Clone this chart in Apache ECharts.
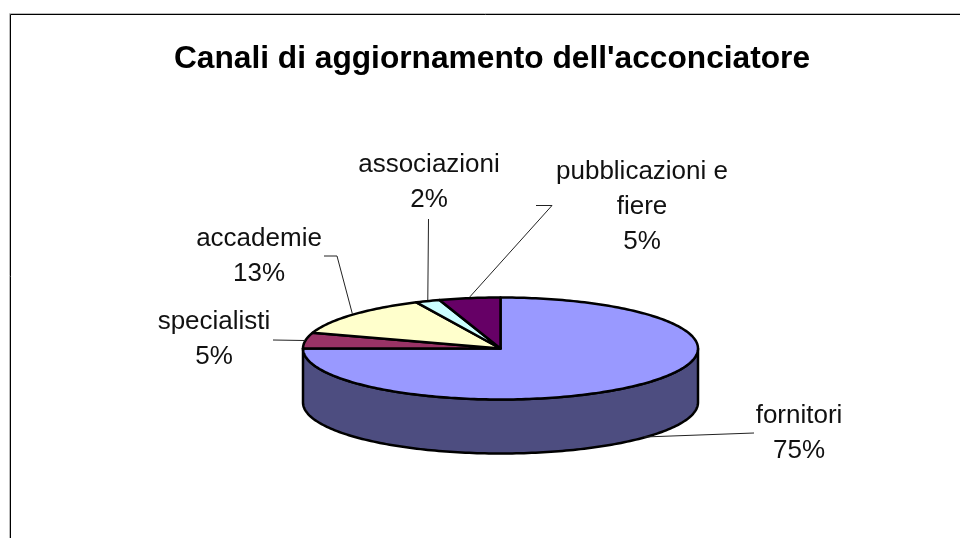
<!DOCTYPE html>
<html>
<head>
<meta charset="utf-8">
<style>html,body{margin:0;padding:0;background:#fff}#chart{width:960px;height:538px}</style>
<script src="https://cdn.jsdelivr.net/npm/echarts@6/dist/echarts.min.js"></script>
</head>
<body>
<div id="chart"></div>
<script>
// Pie data, clockwise from twelve o'clock
const categories = ['fornitori', 'specialisti', 'accademie', 'associazioni', 'pubblicazioni e\nfiere'];
const shares = [75, 5, 13, 2, 5];
const topColors = ['#9999FF', '#993366', '#FFFFCC', '#CCFFFF', '#660066'];
const sideColors = ['#4D4D80', '#4D1A33', '#808066', '#668080', '#330033'];

// Tilted disc geometry
const CX = 500.5, CY = 348.5, RX = 197.5, RY = 51, DEPTH = 54;
// Label centres and the bend of each leader line
const labelAt = [[799, 433], [214, 339], [259, 256], [429, 182], [642, 207]];
const leaderVia = [null, null, [337, 256], null, [552, 205.5]];
const leaderEnd = [[754, 433], [273, 340], [324, 256], [428.5, 219], [536, 205.5]];

const total = shares.reduce((a, b) => a + b, 0);
const starts = [];
shares.reduce((acc, v, i) => { starts[i] = acc; return acc + v; }, 0);

// Angle is clockwise from the top, in radians
function pt(a, dy) {
  return [CX + RX * Math.sin(a), CY - RY * Math.cos(a) + (dy || 0)];
}
function arc(a0, a1, dy) {
  const n = Math.max(2, Math.ceil(Math.abs(a1 - a0) / 0.02));
  const out = [];
  for (let k = 0; k <= n; k++) out.push(pt(a0 + (a1 - a0) * k / n, dy));
  return out;
}
const stroke = { stroke: '#000', lineWidth: 2.5, lineJoin: 'round' };

function renderSide(params, api) {
  const i = params.dataIndex;
  const a0 = api.value(1) / total * 2 * Math.PI;
  const a1 = a0 + api.value(0) / total * 2 * Math.PI;
  // Only the front half of the rim faces the viewer
  const f0 = Math.max(a0, Math.PI / 2), f1 = Math.min(a1, 3 * Math.PI / 2);
  if (f1 <= f0) return { type: 'group', children: [] };
  const points = arc(f0, f1, 0).concat(arc(f1, f0, DEPTH));
  return { type: 'polygon', shape: { points }, style: { fill: sideColors[i], ...stroke } };
}

function renderTop(params, api) {
  const i = params.dataIndex;
  const a0 = api.value(1) / total * 2 * Math.PI;
  const a1 = a0 + api.value(0) / total * 2 * Math.PI;
  const points = [[CX, CY]].concat(arc(a0, a1, 0));
  return { type: 'polygon', shape: { points }, style: { fill: topColors[i], ...stroke } };
}

function renderLabel(params, api) {
  const i = params.dataIndex;
  const a0 = api.value(1) / total * 2 * Math.PI;
  const mid = a0 + api.value(0) / total * Math.PI;
  // The front slice's leader meets the lower rim, the others the top edge
  const tip = i === 0 ? [644, 437] : pt(mid, i === 1 ? 0 : -1);
  const line = [tip];
  if (leaderVia[i]) line.push(leaderVia[i]);
  line.push(leaderEnd[i]);
  return {
    type: 'group',
    children: [
      { type: 'polyline', shape: { points: line }, style: { fill: null, stroke: '#222', lineWidth: 1 } },
      {
        type: 'text',
        style: {
          x: labelAt[i][0], y: labelAt[i][1],
          text: categories[i] + '\n' + api.value(0) + '%',
          fill: '#111', font: '26px "Liberation Sans"',
          align: 'center', verticalAlign: 'middle', lineHeight: 35
        }
      }
    ]
  };
}

const rows = shares.map((v, i) => [v, starts[i]]);
const chart = echarts.init(document.getElementById('chart'), null, { renderer: 'canvas' });
chart.setOption({
  animation: false,
  backgroundColor: '#fff',
  title: {
    text: "Canali di aggiornamento dell'acconciatore",
    left: 487, top: 38, textAlign: 'center',
    textStyle: { fontFamily: 'Liberation Sans', fontWeight: 'bold', fontSize: 31.7, color: '#000' }
  },
  graphic: [{
    type: 'polyline',
    shape: { points: [[9.5, 538], [9.5, 13.5], [960, 13.5]] },
    style: { fill: null, stroke: '#bbb', lineWidth: 1 }
  }, {
    type: 'polyline',
    shape: { points: [[10.5, 538], [10.5, 14.5], [960, 14.5]] },
    style: { fill: null, stroke: '#000', lineWidth: 1 }
  }],
  series: [
    { type: 'custom', coordinateSystem: 'none', renderItem: renderSide, data: rows, silent: true },
    { type: 'custom', coordinateSystem: 'none', renderItem: renderTop, data: rows, silent: true },
    { type: 'custom', coordinateSystem: 'none', renderItem: renderLabel, data: rows, silent: true }
  ]
});
</script>
</body>
</html>
